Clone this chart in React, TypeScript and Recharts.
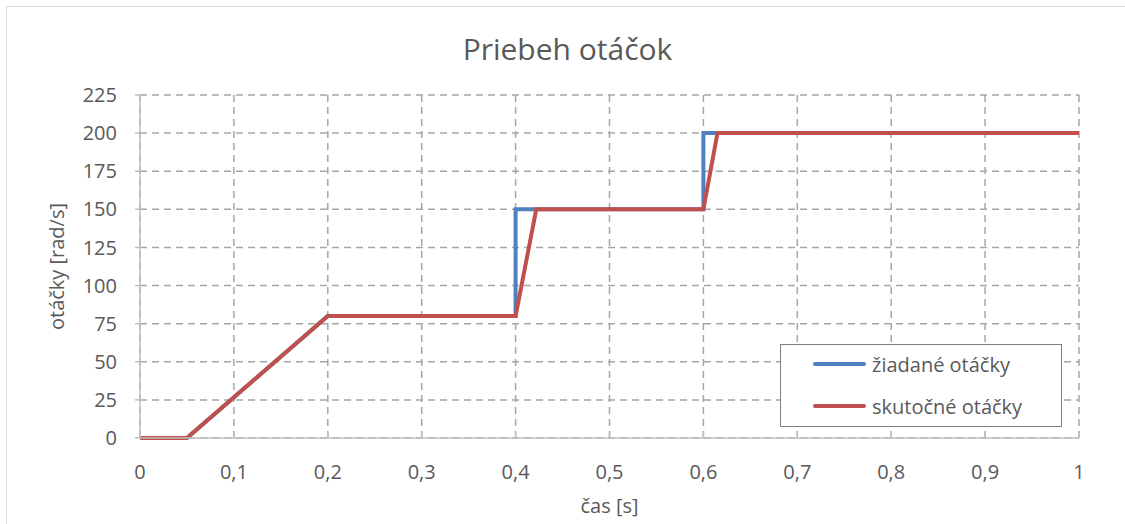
import React from 'react';
import { LineChart, Line, XAxis, YAxis, CartesianGrid } from 'recharts';

const titleText = 'Priebeh otáčok';
const xLabel = 'čas [s]';
const yLabel = 'otáčky [rad/s]';
const xTicks = [0, 0.1, 0.2, 0.3, 0.4, 0.5, 0.6, 0.7, 0.8, 0.9, 1];
const yTicks = [0, 25, 50, 75, 100, 125, 150, 175, 200, 225];

const setName = 'žiadané otáčky';
const setT = [0, 0.05, 0.2, 0.4, 0.4, 0.6, 0.6, 1];
const setV = [0, 0, 80, 80, 150, 150, 200, 200];

const actName = 'skutočné otáčky';
const actT = [0, 0.05, 0.2, 0.4, 0.422, 0.6, 0.615, 1];
const actV = [0, 0, 80, 80, 150, 150, 200, 200];

const setData = setT.map((t, i) => ({ t, v: setV[i] }));
const actData = actT.map((t, i) => ({ t, v: actV[i] }));

const FONT = '"Open Sans", sans-serif';
const TXT = '#595959';
const BLUE = '#4f81bd';
const RED = '#c0504d';

const fmt = (v: number) => String(v).replace('.', ',');

const legendItems = [
  { name: setName, color: BLUE, y: 20 },
  { name: actName, color: RED, y: 62 },
];

const LegendBox = () => (
  <div
    style={{
      position: 'absolute',
      left: 780,
      top: 344,
      width: 282,
      height: 83,
      border: '1.5px solid #7f7f7f',
      background: '#fff',
      boxSizing: 'border-box',
      fontFamily: FONT,
      fontSize: 20,
      color: TXT,
    }}
  >
    {legendItems.map((it) => (
      <div key={it.name} style={{ position: 'absolute', left: 32, top: it.y - 14, height: 26, display: 'flex', alignItems: 'center' }}>
        <div style={{ width: 53, height: 4, background: it.color, borderRadius: 2 }} />
        <span style={{ marginLeft: 6, whiteSpace: 'nowrap' }}>{it.name}</span>
      </div>
    ))}
  </div>
);

export default function App() {
  return (
    <div style={{ position: 'fixed', left: 0, top: 0, width: 1125, height: 524, overflow: 'hidden', background: '#fff' }}>
      <div style={{ position: 'absolute', left: 6, top: 6, width: 1140, height: 540, border: '1px solid #d9d9d9' }} />
      <div style={{ position: 'absolute', left: 0, top: 28, width: 1125, textAlign: 'center', fontFamily: FONT, fontSize: 30, color: TXT, paddingLeft: 10, boxSizing: 'border-box' }}>
        {titleText}
      </div>
      <div style={{ position: 'absolute', left: 0, top: 0 }}>
        <LineChart
          width={1125}
          height={524}
          margin={{ top: 95, right: 46, bottom: 20, left: 40 }}
        >
          <CartesianGrid stroke="#a6a6a6" strokeWidth={1.5} strokeDasharray="7 5" />
          <XAxis
            dataKey="t"
            type="number"
            domain={[0, 1]}
            ticks={xTicks}
            tickFormatter={fmt}
            allowDuplicatedCategory={false}
            height={66}
            stroke="#bfbfbf"
            strokeWidth={1.5}
            tickSize={-6}
            tickMargin={33}
            tick={{ fill: TXT, fontSize: 20, fontFamily: FONT }}
            label={{ value: xLabel, position: 'insideBottom', offset: -9, fill: TXT, fontSize: 20, fontFamily: FONT }}
          />
          <YAxis
            type="number"
            domain={[0, 225]}
            ticks={yTicks}
            width={100}
            stroke="#bfbfbf"
            strokeWidth={1.5}
            tickSize={5}
            tickMargin={18}
            tick={{ fill: TXT, fontSize: 20, fontFamily: FONT }}
            label={{ value: yLabel, angle: -90, position: 'insideLeft', offset: 17, fill: TXT, fontSize: 20, fontFamily: FONT, style: { textAnchor: 'middle' } }}
          />
          <Line data={setData} dataKey="v" name={setName} type="linear" stroke={BLUE} strokeWidth={4} dot={false} isAnimationActive={false} />
          <Line data={actData} dataKey="v" name={actName} type="linear" stroke={RED} strokeWidth={4} dot={false} isAnimationActive={false} />
        </LineChart>
      </div>
      <LegendBox />
    </div>
  );
}
